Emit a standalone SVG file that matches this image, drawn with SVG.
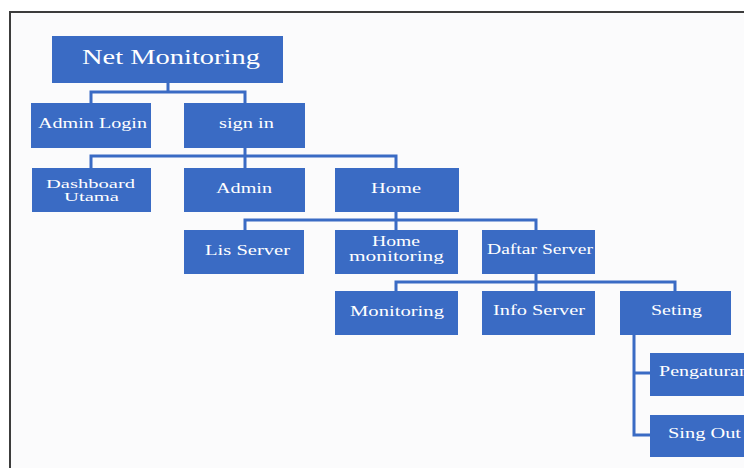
<svg xmlns="http://www.w3.org/2000/svg" width="744" height="468" viewBox="0 0 744 468">
<style>
.box{fill:#3a6bc4;}
.lbl{fill:#ffffff;font-family:"Liberation Serif","DejaVu Serif","Times New Roman",serif;font-size:15px;text-anchor:middle;}
.big{font-size:20px;}
.sm{font-size:12.5px;}
.con{fill:none;stroke:#3a6bc4;stroke-width:3;}
</style>
<rect x="0" y="0" width="744" height="468" fill="#ffffff"/>
<rect x="10" y="12" width="740" height="470" fill="#fbfbfc" stroke="#3c3c3c" stroke-width="2"/>
<g id="connectors">
<path class="con" d="M168,83 V92 M91,103 V92 H245 V103"/>
<path class="con" d="M245,148 V156 M91,168 V156 H396 V168 M245,156 V168"/>
<path class="con" d="M396,212 V220 M245,230 V220 H536 V230 M396,220 V230"/>
<path class="con" d="M536,274 V282 M396,291 V282 H675 V291 M536,282 V291"/>
<path class="con" d="M634,335 V435 H650 M634,373 H650"/>
</g>
<g id="n-net"><rect class="box" x="52" y="36" width="231" height="47"/><text class="lbl big" x="171" y="64" textLength="178" lengthAdjust="spacingAndGlyphs" font-family="Liberation Serif, DejaVu Serif, serif">Net Monitoring</text></g>
<g id="n-adminlogin"><rect class="box" x="31" y="103" width="120" height="45"/><text class="lbl" x="92.5" y="128" textLength="109" lengthAdjust="spacingAndGlyphs">Admin Login</text></g>
<g id="n-signin"><rect class="box" x="184" y="103" width="121" height="45"/><text class="lbl" x="246.5" y="128" textLength="55" lengthAdjust="spacingAndGlyphs">sign in</text></g>
<g id="n-dashboard"><rect class="box" x="32" y="168" width="119" height="44"/><text class="lbl sm" x="90.5" y="188" textLength="89" lengthAdjust="spacingAndGlyphs">Dashboard</text><text class="lbl sm" x="91.5" y="201" textLength="55" lengthAdjust="spacingAndGlyphs">Utama</text></g>
<g id="n-admin"><rect class="box" x="184" y="168" width="121" height="44"/><text class="lbl" x="244" y="193" textLength="56" lengthAdjust="spacingAndGlyphs">Admin</text></g>
<g id="n-home"><rect class="box" x="335" y="168" width="124" height="44"/><text class="lbl" x="396" y="193" textLength="50" lengthAdjust="spacingAndGlyphs">Home</text></g>
<g id="n-lisserver"><rect class="box" x="184" y="230" width="120" height="44"/><text class="lbl" x="247.5" y="255" textLength="85" lengthAdjust="spacingAndGlyphs">Lis Server</text></g>
<g id="n-homemon"><rect class="box" x="335" y="230" width="123" height="44"/><text class="lbl" x="396" y="246" textLength="48" lengthAdjust="spacingAndGlyphs">Home</text><text class="lbl" x="396.5" y="261" textLength="95" lengthAdjust="spacingAndGlyphs">monitoring</text></g>
<g id="n-daftar"><rect class="box" x="482" y="230" width="113" height="44"/><text class="lbl" x="540" y="254" textLength="106" lengthAdjust="spacingAndGlyphs">Daftar Server</text></g>
<g id="n-monitoring"><rect class="box" x="335" y="291" width="123" height="44"/><text class="lbl" x="397" y="316" textLength="94" lengthAdjust="spacingAndGlyphs">Monitoring</text></g>
<g id="n-info"><rect class="box" x="482" y="291" width="113" height="44"/><text class="lbl" x="539" y="315" textLength="92" lengthAdjust="spacingAndGlyphs">Info Server</text></g>
<g id="n-seting"><rect class="box" x="620" y="291" width="111" height="44"/><text class="lbl" x="676.5" y="315" textLength="51" lengthAdjust="spacingAndGlyphs">Seting</text></g>
<g id="n-pengaturan"><rect class="box" x="650" y="353" width="100" height="43"/><text class="lbl" x="704" y="376" textLength="90" lengthAdjust="spacingAndGlyphs">Pengaturan</text></g>
<g id="n-singout"><rect class="box" x="650" y="415" width="100" height="42"/><text class="lbl" x="704.5" y="438" textLength="73" lengthAdjust="spacingAndGlyphs">Sing Out</text></g>
</svg>
